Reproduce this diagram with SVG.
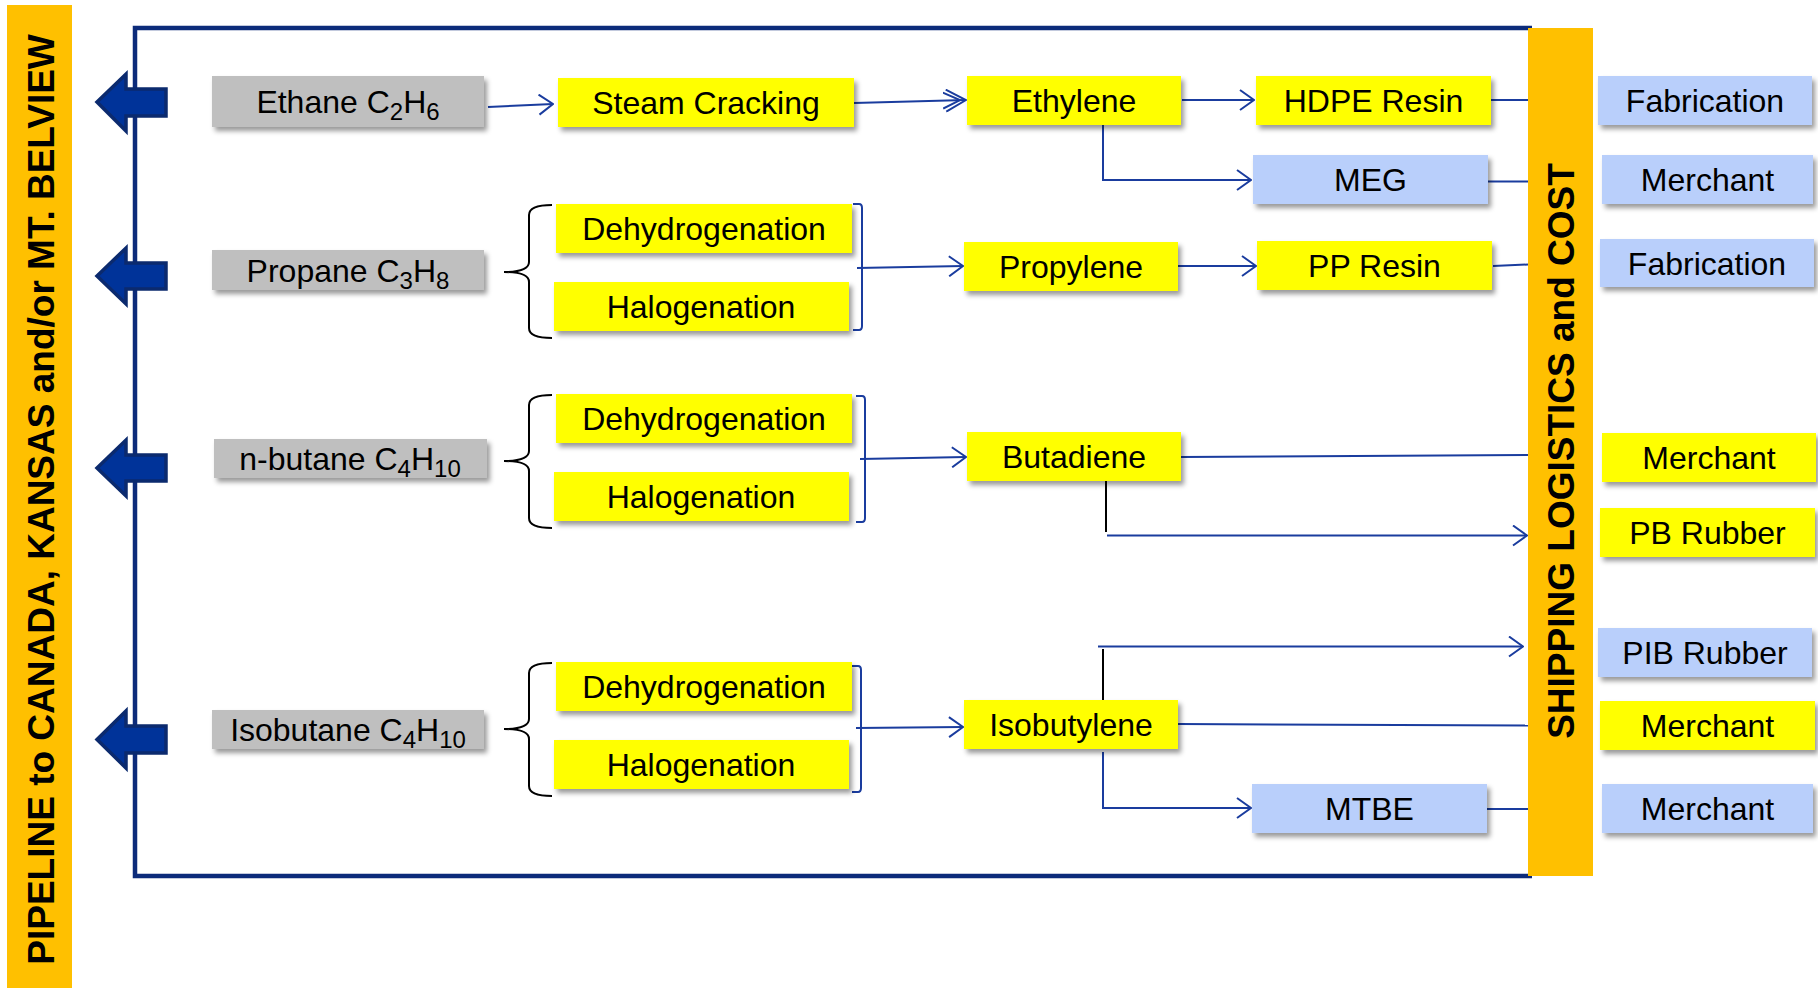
<svg xmlns="http://www.w3.org/2000/svg" width="1818" height="988" viewBox="0 0 1818 988">
  <defs>
    <filter id="shadow" x="-10%" y="-20%" width="130%" height="160%">
      <feDropShadow dx="3" dy="4" stdDeviation="2.5" flood-color="#000" flood-opacity="0.4"/>
    </filter>
    <marker id="arrow" viewBox="0 0 16 22" refX="15" refY="11" markerWidth="16" markerHeight="22" markerUnits="userSpaceOnUse" orient="auto">
      <path d="M1,1 L15,11 L1,21" fill="none" stroke="#1a3c9e" stroke-width="2"/>
    </marker>
    <marker id="arrow2" viewBox="0 0 24 24" refX="23" refY="12" markerWidth="24" markerHeight="24" markerUnits="userSpaceOnUse" orient="auto">
      <path d="M3,1 L23,12 L3,23 M0,4 L17,12 L0,20" fill="none" stroke="#1a3c9e" stroke-width="2"/>
    </marker>
  </defs>
  <style>
    text { font-family: "Liberation Sans", Arial, sans-serif; fill: #000; }
    .lbl { font-size: 32px; text-anchor: middle; }
    .sub { font-size: 24px; }
    .band { font-size: 37px; font-weight: bold; text-anchor: middle; }
    .gray { fill: #bfbfbf; filter: url(#shadow); }
    .yel { fill: #ffff00; filter: url(#shadow); }
    .blu { fill: #b9cffb; filter: url(#shadow); }
    .conn { fill: none; stroke: #1a3c9e; stroke-width: 2; }
    .brace { fill: none; stroke: #000; stroke-width: 2; }
    .pipe { fill: #003399; stroke: #0b2a6e; stroke-width: 3.5; stroke-linejoin: miter; }
  </style>

  <rect width="1818" height="988" fill="#fff"/>

  <!-- pipeline band -->
  <g id="pipeline-band">
    <rect x="7" y="5" width="65" height="983" fill="#ffc000"/>
    <text class="band" transform="translate(54,499.5) rotate(-90)">PIPELINE to CANADA, KANSAS and/or MT. BELVIEW</text>
  </g>

  <!-- outer frame -->
  <path id="frame" d="M1532,28 L135,28 L135,876 L1532,876" fill="none" stroke="#0c2b7a" stroke-width="4.5"/>

  <!-- pipeline outlet arrows -->
  <g id="outlets">
    <path class="pipe" d="M97,102 L126,74 L126,89 L166,89 L166,116 L126,116 L126,131 Z"/>
    <path class="pipe" d="M97,276 L126,248 L126,263 L166,263 L166,289 L126,289 L126,304 Z"/>
    <path class="pipe" d="M97,468 L126,440 L126,455 L166,455 L166,481 L126,481 L126,496 Z"/>
    <path class="pipe" d="M97,739.5 L126,711 L126,726 L166,726 L166,753 L126,753 L126,768 Z"/>
  </g>

  <!-- shipping band -->
  <g id="shipping-band">
    <rect x="1528" y="28" width="65" height="848" fill="#ffc000"/>
    <text class="band" transform="translate(1574,451) rotate(-90)">SHIPPING LOGISTICS and COST</text>
  </g>

  <!-- braces -->
  <g id="braces">
    <path class="brace" d="M552,205 Q529,205 529,215 L529,262 Q529,272 504,272 Q529,272 529,282 L529,328 Q529,338 552,338"/>
    <path class="brace" d="M552,395 Q529,395 529,405 L529,451 Q529,461 504,461 Q529,461 529,471 L529,518 Q529,528 552,528"/>
    <path class="brace" d="M552,663 Q529,663 529,673 L529,719 Q529,729 504,729 Q529,729 529,739 L529,786 Q529,796 552,796"/>
    <path class="conn" d="M853,204 L859,204 Q862,204 862,208 L862,326 Q862,330 859,330 L853,330"/>
    <path class="conn" d="M856,396 L862,396 Q865,396 865,400 L865,518 Q865,522 862,522 L856,522"/>
    <path class="conn" d="M852,666 L858,666 Q861,666 861,670 L861,788 Q861,792 858,792 L852,792"/>
  </g>

  <!-- connectors -->
  <g id="connectors">
    <path class="conn" d="M488,107 L553,104" marker-end="url(#arrow)"/>
    <path class="conn" d="M854,103 L966,100" stroke-width="3.5" marker-end="url(#arrow2)"/>
    <path class="conn" d="M1182,100 L1254,100" marker-end="url(#arrow)"/>
    <path class="conn" d="M1103,123 L1103,180 L1251,180" marker-end="url(#arrow)"/>
    <path class="conn" d="M1491,100 L1528,100"/>
    <path class="conn" d="M1484,181.5 L1528,181.5"/>
    <path class="conn" d="M857,268 L963,266" marker-end="url(#arrow)"/>
    <path class="conn" d="M1178,266 L1256,266" marker-end="url(#arrow)"/>
    <path class="conn" d="M1493,266 L1528,264.5"/>
    <path class="conn" d="M860,459 L966,457" marker-end="url(#arrow)"/>
    <path class="conn" d="M1181,457 L1528,455"/>
    <path d="M1106,481 L1106,532" fill="none" stroke="#000" stroke-width="2"/>
    <path class="conn" d="M1107,535.5 L1527,535.5" marker-end="url(#arrow)"/>
    <path class="conn" d="M856,728 L963,727" marker-end="url(#arrow)"/>
    <path class="conn" d="M1178,724 L1528,725.5"/>
    <path d="M1103,649 L1103,700" fill="none" stroke="#000" stroke-width="2"/>
    <path class="conn" d="M1098,646.5 L1523,646.5" marker-end="url(#arrow)"/>
    <path class="conn" d="M1103,752 L1103,808 L1251,808" marker-end="url(#arrow)"/>
    <path class="conn" d="M1484,809 L1528,809"/>
  </g>

  <!-- feedstocks -->
  <g id="ethane">
    <rect class="gray" x="212" y="76" width="272" height="51"/>
    <text class="lbl" x="348" y="113">Ethane C<tspan class="sub" dy="7">2</tspan><tspan dy="-7">H</tspan><tspan class="sub" dy="7">6</tspan></text>
  </g>
  <g id="propane">
    <rect class="gray" x="212" y="250" width="272" height="40"/>
    <text class="lbl" x="348" y="281.5">Propane C<tspan class="sub" dy="7">3</tspan><tspan dy="-7">H</tspan><tspan class="sub" dy="7">8</tspan></text>
  </g>
  <g id="n-butane">
    <rect class="gray" x="214" y="439" width="273" height="39"/>
    <text class="lbl" x="350" y="470">n-butane C<tspan class="sub" dy="7">4</tspan><tspan dy="-7">H</tspan><tspan class="sub" dy="7">10</tspan></text>
  </g>
  <g id="isobutane">
    <rect class="gray" x="212" y="710" width="272" height="39"/>
    <text class="lbl" x="348" y="741">Isobutane C<tspan class="sub" dy="7">4</tspan><tspan dy="-7">H</tspan><tspan class="sub" dy="7">10</tspan></text>
  </g>

  <!-- processes -->
  <g id="steam-cracking">
    <rect class="yel" x="558" y="78" width="296" height="49"/>
    <text class="lbl" x="706" y="114">Steam Cracking</text>
  </g>
  <g id="dehydrogenation-propane">
    <rect class="yel" x="556" y="204" width="296" height="49"/>
    <text class="lbl" x="704" y="240">Dehydrogenation</text>
  </g>
  <g id="halogenation-propane">
    <rect class="yel" x="554" y="282" width="295" height="49"/>
    <text class="lbl" x="701" y="318">Halogenation</text>
  </g>
  <g id="dehydrogenation-butane">
    <rect class="yel" x="556" y="394" width="296" height="49"/>
    <text class="lbl" x="704" y="430">Dehydrogenation</text>
  </g>
  <g id="halogenation-butane">
    <rect class="yel" x="554" y="472" width="295" height="49"/>
    <text class="lbl" x="701" y="508">Halogenation</text>
  </g>
  <g id="dehydrogenation-isobutane">
    <rect class="yel" x="556" y="662" width="296" height="49"/>
    <text class="lbl" x="704" y="698">Dehydrogenation</text>
  </g>
  <g id="halogenation-isobutane">
    <rect class="yel" x="554" y="740" width="295" height="49"/>
    <text class="lbl" x="701" y="776">Halogenation</text>
  </g>

  <!-- olefins -->
  <g id="ethylene">
    <rect class="yel" x="967" y="76" width="214" height="49"/>
    <text class="lbl" x="1074" y="112">Ethylene</text>
  </g>
  <g id="propylene">
    <rect class="yel" x="964" y="242" width="214" height="49"/>
    <text class="lbl" x="1071" y="278">Propylene</text>
  </g>
  <g id="butadiene">
    <rect class="yel" x="967" y="432" width="214" height="49"/>
    <text class="lbl" x="1074" y="468">Butadiene</text>
  </g>
  <g id="isobutylene">
    <rect class="yel" x="964" y="700" width="214" height="49"/>
    <text class="lbl" x="1071" y="736">Isobutylene</text>
  </g>

  <!-- derivatives -->
  <g id="hdpe-resin">
    <rect class="yel" x="1256" y="76" width="235" height="49"/>
    <text class="lbl" x="1373.5" y="112">HDPE Resin</text>
  </g>
  <g id="meg">
    <rect class="blu" x="1253" y="155" width="235" height="49"/>
    <text class="lbl" x="1370.5" y="191">MEG</text>
  </g>
  <g id="pp-resin">
    <rect class="yel" x="1257" y="241" width="235" height="49"/>
    <text class="lbl" x="1374.5" y="277">PP Resin</text>
  </g>
  <g id="mtbe">
    <rect class="blu" x="1252" y="784" width="235" height="49"/>
    <text class="lbl" x="1369.5" y="820">MTBE</text>
  </g>

  <!-- markets -->
  <g id="fabrication-1">
    <rect class="blu" x="1598" y="76" width="214" height="49"/>
    <text class="lbl" x="1705" y="112">Fabrication</text>
  </g>
  <g id="merchant-1">
    <rect class="blu" x="1602" y="155" width="211" height="49"/>
    <text class="lbl" x="1707.5" y="191">Merchant</text>
  </g>
  <g id="fabrication-2">
    <rect class="blu" x="1600" y="239" width="214" height="48"/>
    <text class="lbl" x="1707" y="274.5">Fabrication</text>
  </g>
  <g id="merchant-2">
    <rect class="yel" x="1602" y="433" width="214" height="49"/>
    <text class="lbl" x="1709" y="469">Merchant</text>
  </g>
  <g id="pb-rubber">
    <rect class="yel" x="1600" y="508" width="215" height="49"/>
    <text class="lbl" x="1707.5" y="544">PB Rubber</text>
  </g>
  <g id="pib-rubber">
    <rect class="blu" x="1598" y="628" width="214" height="49"/>
    <text class="lbl" x="1705" y="664">PIB Rubber</text>
  </g>
  <g id="merchant-3">
    <rect class="yel" x="1600" y="701" width="215" height="49"/>
    <text class="lbl" x="1707.5" y="737">Merchant</text>
  </g>
  <g id="merchant-4">
    <rect class="blu" x="1602" y="784" width="211" height="49"/>
    <text class="lbl" x="1707.5" y="820">Merchant</text>
  </g>
</svg>
